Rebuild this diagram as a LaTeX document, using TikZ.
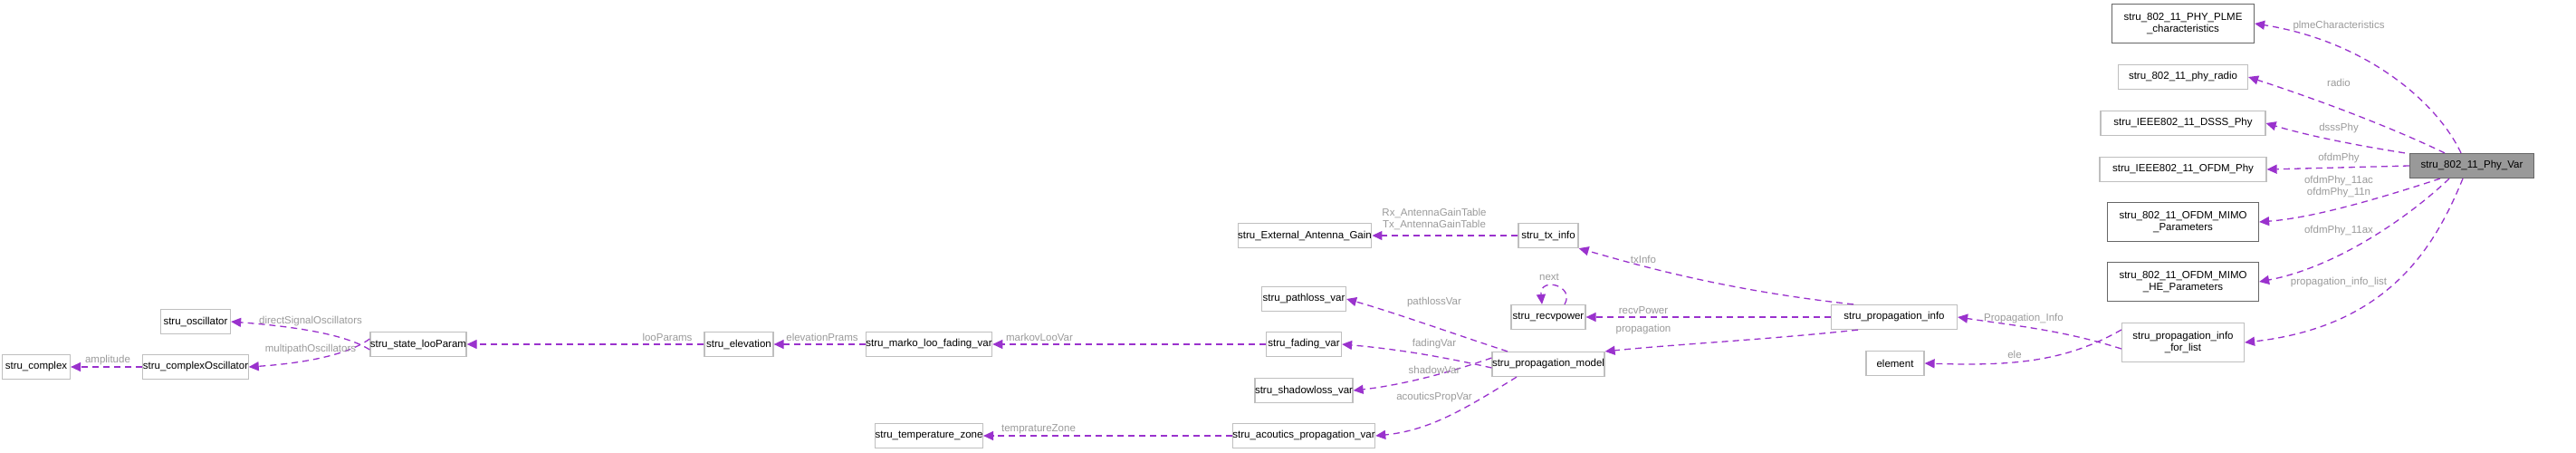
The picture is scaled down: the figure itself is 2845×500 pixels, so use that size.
\documentclass[tikz,border=0pt]{standalone}
\usepackage{fontspec}
\setmainfont{Liberation Sans}
\usetikzlibrary{arrows.meta}
\definecolor{edgec}{HTML}{9A32CD}
\definecolor{lblc}{HTML}{9A9A9A}
\definecolor{lbord}{HTML}{BFBFBF}
\definecolor{dbord}{HTML}{666666}
\begin{document}
\begin{tikzpicture}[x=1pt,y=-1pt,
  box/.style={draw=lbord,line width=1.2pt,fill=white,inner sep=0pt,align=center,font=\fontsize{11.5}{13.5}\selectfont,minimum height=27pt},
  dbox/.style={box,draw=dbord},
  e/.style={draw=edgec,line width=1.3pt,dash pattern=on 7pt off 5pt,-{Triangle[length=11pt,width=10pt]}},
  lb/.style={text=lblc,font=\fontsize{11.5}{13.5}\selectfont,align=center,inner sep=1pt}]
\useasboundingbox (0,0) rectangle (2845,500);
% nodes
\node[box,fill=gray!80!black!50,fill={rgb,255:red,153;green,153;blue,153},draw=dbord,minimum width=137pt] (pv) at (2730,183) {stru\_802\_11\_Phy\_Var};
\node[dbox,minimum width=157pt,minimum height=43pt] (plme) at (2411,26) {stru\_802\_11\_PHY\_PLME\\\_characteristics};
\node[box,minimum width=143pt] (radio) at (2411,85) {stru\_802\_11\_phy\_radio};
\node[box,minimum width=182pt] (dsss) at (2411,136) {stru\_IEEE802\_11\_DSSS\_Phy};
\node[box,minimum width=184pt] (ofdm) at (2411,187) {stru\_IEEE802\_11\_OFDM\_Phy};
\node[dbox,minimum width=167pt,minimum height=43pt] (mimo) at (2411,245) {stru\_802\_11\_OFDM\_MIMO\\\_Parameters};
\node[dbox,minimum width=167pt,minimum height=43pt] (mimohe) at (2411,311) {stru\_802\_11\_OFDM\_MIMO\\\_HE\_Parameters};
\node[box,minimum width=135pt,minimum height=43pt] (pifl) at (2411,378) {stru\_propagation\_info\\\_for\_list};
\node[box,minimum width=139pt] (pinfo) at (2092,350) {stru\_propagation\_info};
\node[box,minimum width=64pt] (elem) at (2093,401) {element};
\node[box,minimum width=66pt] (tx) at (1710,260) {stru\_tx\_info};
\node[box,minimum width=82pt] (recv) at (1710,350) {stru\_recvpower};
\node[box,minimum width=119pt] (pm) at (1710,402) {stru\_propagation\_model};
\node[box,minimum width=140pt] (ext) at (1441,260) {stru\_External\_Antenna\_Gain};
\node[box,minimum width=93pt] (path) at (1440,330) {stru\_pathloss\_var};
\node[box,minimum width=83pt] (fad) at (1440,380) {stru\_fading\_var};
\node[box,minimum width=107pt] (shad) at (1440,431) {stru\_shadowloss\_var};
\node[box,minimum width=149pt] (acou) at (1440,481) {stru\_acoutics\_propagation\_var};
\node[box,minimum width=133pt] (marko) at (1026,380) {stru\_marko\_loo\_fading\_var};
\node[box,minimum width=115pt] (temp) at (1026,481) {stru\_temperature\_zone};
\node[box,minimum width=76pt] (elev) at (816,380) {stru\_elevation};
\node[box,minimum width=106pt] (state) at (462,380) {stru\_state\_looParam};
\node[box,minimum width=77pt] (osc) at (216,355) {stru\_oscillator};
\node[box,minimum width=115pt] (cosc) at (216,405) {stru\_complexOscillator};
\node[box,minimum width=75pt] (cplx) at (40,405) {stru\_complex};
% edges from Phy_Var
\draw[e] ([xshift=-12pt]pv.north) .. controls (2690,110) and (2610,45) .. (plme.east);
\node[lb] at (2583,29) {plmeCharacteristics};
\draw[e] ([xshift=-30pt]pv.north) .. controls (2640,140) and (2560,110) .. (radio.east);
\node[lb] at (2583,91) {radio};
\draw[e] ([xshift=-5pt]pv.north west) .. controls (2600,160) and (2550,150) .. (dsss.east);
\node[lb] at (2583,142) {dsssPhy};
\draw[e] (pv.west) -- (ofdm.east);
\node[lb] at (2583,175) {ofdmPhy};
\draw[e] ([xshift=-35pt]pv.south) .. controls (2640,215) and (2560,240) .. (mimo.east);
\node[lb] at (2583,206) {ofdmPhy\_11ac\\ofdmPhy\_11n};
\draw[e] ([xshift=-25pt]pv.south) .. controls (2660,240) and (2580,295) .. (mimohe.east);
\node[lb] at (2583,255) {ofdmPhy\_11ax};
\draw[e] ([xshift=-10pt]pv.south) .. controls (2690,270) and (2640,360) .. (pifl.east);
\node[lb] at (2583,312) {propagation\_info\_list};
% for_list
\draw[e] ([yshift=-7pt]pifl.west) .. controls (2280,365) and (2230,360) .. (pinfo.east);
\node[lb] at (2235,352) {Propagation\_Info};
\draw[e] ([yshift=14pt]pifl.west) .. controls (2280,400) and (2220,404) .. (elem.east);
\node[lb] at (2225,391) {ele};
% propagation_info
\draw[e] ([xshift=-45pt]pinfo.north) .. controls (1900,320) and (1800,290) .. (tx.south east);
\node[lb] at (1815,286) {txInfo};
\draw[e] (pinfo.west) -- (recv.east);
\node[lb] at (1815,343) {recvPower};
\draw[e] ([xshift=-40pt]pinfo.south) .. controls (1950,375) and (1850,380) .. (pm.north east);
\node[lb] at (1815,364) {propagation};
\draw[e] ([xshift=18pt]recv.north) .. controls (1740,315) and (1700,305) .. ([xshift=-7pt]recv.north);
\node[lb] at (1711,306) {next};
% tx
\draw[e] (tx.west) -- (ext.east);
\node[lb] at (1584,242) {Rx\_AntennaGainTable\\Tx\_AntennaGainTable};
% propagation model
\draw[e] ([xshift=-45pt]pm.north) .. controls (1610,370) and (1540,345) .. (path.east);
\node[lb] at (1584,334) {pathlossVar};
\draw[e] ([yshift=-4pt]pm.west) .. controls (1590,393) and (1540,385) .. (fad.east);
\node[lb] at (1584,380) {fadingVar};
\draw[e] ([yshift=7pt]pm.west) .. controls (1590,415) and (1540,426) .. (shad.east);
\node[lb] at (1584,408) {shadowVar};
\draw[e] ([xshift=-35pt]pm.south) .. controls (1620,450) and (1580,475) .. (acou.east);
\node[lb] at (1584,439) {acouticsPropVar};
% chain
\draw[e] (fad.west) -- (marko.east);
\node[lb] at (1148,372) {markovLooVar};
\draw[e] (marko.west) -- (elev.east);
\node[lb] at (908,372) {elevationPrams};
\draw[e] (elev.west) -- (state.east);
\node[lb] at (737,372) {looParams};
\draw[e] ([yshift=-6pt]state.west) .. controls (380,368) and (320,360) .. (osc.east);
\node[lb] at (343,355) {directSignalOscillators};
\draw[e] ([yshift=6pt]state.west) .. controls (380,395) and (320,402) .. (cosc.east);
\node[lb] at (343,386) {multipathOscillators};
\draw[e] (cosc.west) -- (cplx.east);
\node[lb] at (119,398) {amplitude};
\draw[e] (acou.west) -- (temp.east);
\node[lb] at (1147,474) {tempratureZone};
\end{tikzpicture}
\end{document}
